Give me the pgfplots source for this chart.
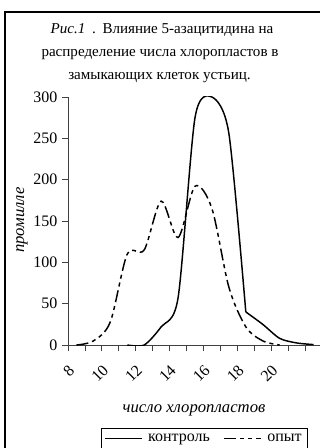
\documentclass[border=0pt]{standalone}
\usepackage{pgfplots}
\pgfplotsset{compat=1.18}
\usepackage{fontspec}
\setmainfont{Liberation Serif}
\newcommand\tf{\fontsize{12}{14}\selectfont}
\begin{document}
\begin{tikzpicture}
\useasboundingbox (0,0) rectangle (240pt,-336pt);
\begin{scope}
\clip (0,0) rectangle (240pt,-336pt);
\fill[white] (0,0) rectangle (240pt,-336pt);
\draw[line width=1.1pt] (3.6pt,-9pt) rectangle (262pt,-360pt);
\node[font=\fontsize{11.3}{14}\selectfont, anchor=base] at (121.5pt,-25.5pt) {\textit{Рис.1}\hspace{5pt}.\hspace{5pt}Влияние 5-азацитидина на};
\node[font=\fontsize{11.3}{14}\selectfont, anchor=base] at (120pt,-42.75pt) {распределение числа хлоропластов в};
\node[font=\fontsize{11.3}{14}\selectfont, anchor=base] at (119.6pt,-60pt) {замыкающих клеток устьиц.};
\node[font=\fontsize{12.5}{15}\selectfont\itshape, rotate=90] at (16.5pt,-165pt) {промилле};
\node[font=\fontsize{12.5}{15}\selectfont\itshape, anchor=base] at (145.5pt,-309pt) {число хлоропластов};
\begin{axis}[
  at={(51pt,-258.75pt)}, anchor=south west,
  scale only axis, width=190.5pt, height=186pt,
  xmin=7.5, xmax=22.5, ymin=0, ymax=300,
  axis x line=bottom, axis y line=left,
  axis line style={-, line width=0.6pt, black!75},
  tick align=outside, major tick length=4.5pt,
  tick style={line width=0.6pt, black!75},
  ytick={0,50,...,300},
  yticklabel style={font=\tf},
  /pgf/number format/assume math mode=true,
  xtick={7.5,8.5,...,22.5}, xticklabels={},
  extra x ticks={8,10,12,14,16,18,20},
  extra x tick labels={8,10,12,14,16,18,20},
  extra x tick style={major tick length=0pt, xticklabel style={font=\tf, xshift=-6.5pt, yshift=-12.5pt, rotate=45, anchor=north east, inner sep=1pt}},
  legend style={at={(0.13,-0.335)}, anchor=north west, draw=black, line width=0.5pt, font=\tf, legend columns=2, inner sep=2pt, column sep=2pt, /tikz/every even column/.append style={column sep=8pt}},
  legend image code/.code={\draw[#1] (0pt,0pt) -- (28pt,0pt);},
  legend cell align=left,
]
\addplot[black, line width=1.1pt, smooth, tension=0.45] coordinates {
(11,0) (12,0) (13,22) (14,57) (15,275) (16,300) (17,256) (18,40)
};
\addlegendentry{контроль}
\addplot[black, line width=1.1pt, smooth, tension=0.5, dash pattern=on 9pt off 3pt on 3pt off 3pt on 3pt off 3pt] coordinates {
(8,0) (9,5) (10,28) (11,110) (12,115) (13,174) (14,130) (15,192) (16,165) (17,70) (18,22) (19,5) (20,0)
};
\addlegendentry{опыт}
\addplot[black, line width=1.1pt, smooth, tension=0.45, forget plot] coordinates {
(18,40) (19,25) (20,8) (21,2.5) (22,0.5)
};
\end{axis}
\end{scope}
\end{tikzpicture}
\end{document}
